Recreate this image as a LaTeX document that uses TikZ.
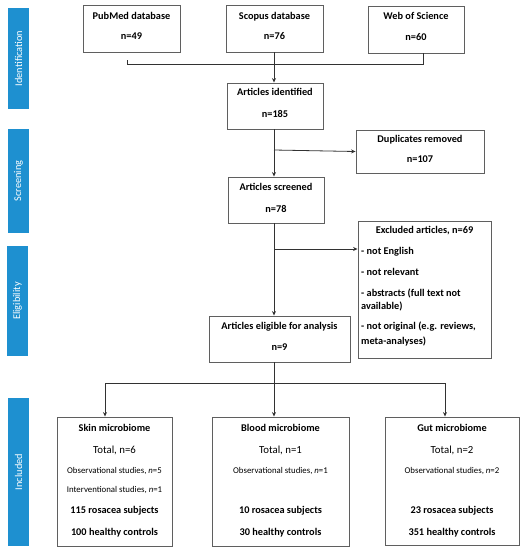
\documentclass[tikz,border=0pt]{standalone}
\usepackage{fontspec}
\setmainfont{Carlito}
\usetikzlibrary{arrows.meta}
\definecolor{sidebl}{RGB}{30,144,208}
\definecolor{boxln}{RGB}{95,95,95}
\definecolor{lnc}{RGB}{50,50,50}
\begin{document}
\begin{tikzpicture}[x=1pt,y=-1pt,
  box/.style={draw=boxln, line width=0.9pt, inner sep=0pt, fill=white},
  side/.style={fill=sidebl, draw=none, inner sep=0pt, minimum width=21pt},
  sidetxt/.style={text=white, font=\fontsize{10.3}{12}\selectfont, rotate=90, inner sep=0pt},
  tb/.style={font=\fontsize{10.3}{12}\selectfont\bfseries, inner sep=0pt, anchor=mid},
  tbl/.style={tb, anchor=mid west},
  tr/.style={font=\fontsize{10.8}{12}\selectfont, inner sep=0pt, anchor=mid},
  ts/.style={font=\fontsize{8.8}{10}\selectfont, inner sep=0pt, anchor=mid},
  conn/.style={draw=lnc, line width=0.8pt},
  arr/.style={conn, -{Stealth[length=4.5pt,width=4pt]}}]
\useasboundingbox (0,0) rectangle (524,550);

% sidebars
\node[side, minimum height=101pt] (s1) at (18.5,58.5) {};
\node[sidetxt] at (s1) {Identification};
\node[side, minimum height=104pt] (s2) at (18.5,181) {};
\node[sidetxt] at (s2) {Screening};
\node[side, minimum height=110pt] (s3) at (17.5,301) {};
\node[sidetxt] at (s3) {Eligibility};
\node[side, minimum height=148pt] (s4) at (18.5,472) {};
\node[sidetxt] at (s4) {Included};

% boxes
\node[box, minimum width=97pt, minimum height=47pt] (pub) at (131.5,28.5) {};
\node[box, minimum width=97pt, minimum height=47pt] (scopus) at (274.5,28.5) {};
\node[box, minimum width=96pt, minimum height=47pt] (wos) at (416,29.5) {};
\node[box, minimum width=96pt, minimum height=46pt] (ident) at (275,106) {};
\node[box, minimum width=128pt, minimum height=43pt] (dup) at (420,151.5) {};
\node[box, minimum width=96pt, minimum height=46pt] (screened) at (276,200) {};
\node[box, minimum width=133pt, minimum height=137pt] (excl) at (424.5,289.5) {};
\node[box, minimum width=141pt, minimum height=46pt] (elig) at (279.5,339) {};
\node[box, minimum width=115pt, minimum height=129pt] (skin) at (114.5,481.5) {};
\node[box, minimum width=137pt, minimum height=129pt] (blood) at (280.5,481.5) {};
\node[box, minimum width=134pt, minimum height=128pt] (gut) at (452,481) {};

% texts
\node[tb] (t1) at (131.5,17) {PubMed database};
\node[tb] (t2) at (131.5,37) {n=49};
\node[tb] (t3) at (274.5,17) {Scopus database};
\node[tb] (t4) at (274.5,37) {n=76};
\node[tb] (t5) at (416,17) {Web of Science};
\node[tb] (t6) at (416,38) {n=60};
\node[tb] (t7) at (275,93) {Articles identified};
\node[tb] (t8) at (275,115) {n=185};
\node[tb] (t9) at (420,140) {Duplicates removed};
\node[tb] (t10) at (420,160) {n=107};
\node[tb] (t11) at (276,188) {Articles screened};
\node[tb] (t12) at (276,210) {n=78};
\node[tb] (t13) at (424.5,231) {Excluded articles, n=69};
\node[tbl] (t14) at (361,252) {- not English};
\node[tbl] (t15) at (361,273) {- not relevant};
\node[tbl] (t16) at (361,294) {- abstracts (full text not};
\node[tbl] (t17) at (361,307) {available)};
\node[tbl] (t18) at (361,327) {- not original (e.g. reviews,};
\node[tbl] (t19) at (361,342) {meta-analyses)};
\node[tb] (t20) at (279.5,327) {Articles eligible for analysis};
\node[tb] (t21) at (279.5,348) {n=9};

\node[tb] (k1) at (114.5,429) {Skin microbiome};
\node[tr] (k2) at (114.5,451) {Total, n=6};
\node[ts] (k3) at (114.5,471) {Observational studies, \textit{n}=5};
\node[ts] (k4) at (114.5,490) {Interventional studies, \textit{n}=1};
\node[tb] (k5) at (114.5,511) {115 rosacea subjects};
\node[tb] (k6) at (114.5,533) {100 healthy controls};

\node[tb] (b1t) at (280.5,429) {Blood microbiome};
\node[tr] (b2t) at (280.5,451) {Total, n=1};
\node[ts] (b3t) at (280.5,471) {Observational studies, \textit{n}=1};
\node[tb] (b5t) at (280.5,511) {10 rosacea subjects};
\node[tb] (b6t) at (280.5,533) {30 healthy controls};

\node[tb] (g1) at (452,429) {Gut microbiome};
\node[tr] (g2) at (452,451) {Total, n=2};
\node[ts] (g3) at (452,471) {Observational studies, \textit{n}=2};
\node[tb] (g5) at (452,511) {23 rosacea subjects};
\node[tb] (g6) at (452,533) {351 healthy controls};

% connectors
\coordinate (m) at (274,0);
\coordinate (jl) at (127,64);
\coordinate (jr) at (423,64);
\draw[conn] (jl) ++(0,-4) -- (jl) -- (jr) -- (wos.south -| jr);
\draw[arr] (scopus.south -| m) -- (ident.north -| m);
\draw[arr] (ident.south -| m) -- (screened.north -| m);
\coordinate (br1) at (274,150);
\draw[arr] (br1) -- (dup.west);
\draw[arr] (screened.south -| m) -- (elig.north -| m);
\coordinate (br2) at (274,249);
\draw[arr] (br2) -- (excl.west |- br2);
\draw[arr] (elig.south -| m) -- (blood.north -| m);
\coordinate (ja) at (105,383);
\coordinate (jb) at (445,383);
\draw[conn] (ja) -- (jb);
\draw[arr] (ja) -- (skin.north -| ja);
\draw[arr] (jb) -- (gut.north -| jb);
\end{tikzpicture}
\end{document}
